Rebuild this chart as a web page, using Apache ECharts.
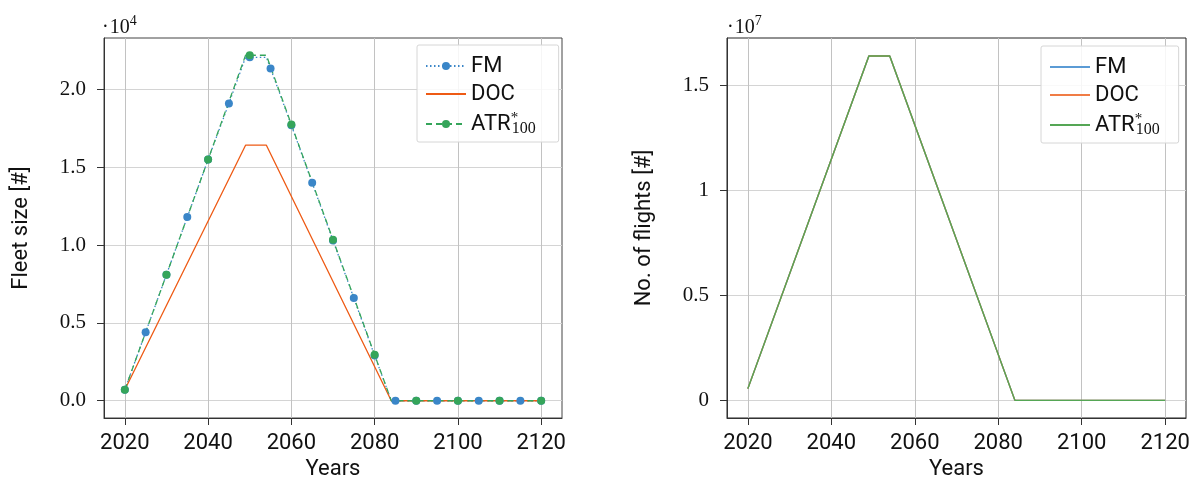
<!DOCTYPE html>
<html><head><meta charset="utf-8">
<script src="https://cdn.jsdelivr.net/npm/echarts@6/dist/echarts.min.js"></script>
<style>html,body{margin:0;padding:0;background:#fff}#c{width:1189px;height:479px}</style>
</head><body><div id="c"></div>
<script>
// ---- data ----
const fleetFMYears = [2020,2025,2030,2035,2040,2045,2049,2050,2054,2055,2060,2065,2070,2075,2080,2084,2085,2090,2095,2100,2105,2110,2115,2120];
const fleetFM      = [700,4400,8100,11800,15500,19100,22070,22070,22070,21350,17700,14000,10300,6600,2900,0,0,0,0,0,0,0,0,0];
const fleetDOCYears = [2020,2049,2054,2084,2120];
const fleetDOC      = [700,16420,16420,0,0];
const fleetATRYears = [2020,2030,2040,2049,2050,2054,2060,2070,2080,2084,2090,2100,2110,2120];
const fleetATR      = [700,8100,15500,22200,22200,22200,17750,10350,2950,0,0,0,0,0];
const flightYears = [2020,2049,2054,2084,2120];
const flightsFM  = [560000,16410000,16410000,0,0];
const flightsDOC = [560000,16410000,16410000,0,0];
const flightsATR = [560000,16410000,16410000,0,0];
const yearTicks   = [2020,2040,2060,2080,2100,2120];
const fleetTicks  = [0,5000,10000,15000,20000];
const flightTicks = [0,5000000,10000000,15000000];
const methodNames = ['FM','DOC','ATR'];

// ---- style ----
const SANS = 'Roboto';
const SERIF = 'Liberation Serif';
const L = {blue:'#3a86c8', orange:'#ee5a14', green:'#35a55a'};
const R = {blue:'#5b9bd5', orange:'#f07c45', green:'#55a655'};

function pts(years, vals, every) {
  return years.map((y, i) => ({
    value: [y, vals[i]],
    symbol: (every && y % every === 0) ? 'circle' : 'none'
  }));
}

const legendRich = {
  a: {fontFamily: SANS, fontSize: 22, lineHeight: 26, color: '#111'},
  s: {fontFamily: SERIF, fontSize: 15, lineHeight: 15, verticalAlign: 'top', width: 1, color: '#111'},
  u: {fontFamily: SERIF, fontSize: 16, lineHeight: 8, verticalAlign: 'bottom', color: '#111'}
};
function legendFmt(name) {
  const base = name.trim();
  if (base === 'ATR') return '{a|ATR}{s|*}{u|100}';
  return '{a|' + base + '}';
}
const noSym = {opacity: 0};

function xAxis(gi) {
  return {
    type: 'value', gridIndex: gi, min: 2015, max: 2125, splitNumber: 5,
    name: 'Years', nameLocation: 'middle', nameGap: 38,
    nameTextStyle: {fontFamily: SANS, fontSize: 22, color: '#111'},
    axisLine: {show: true, onZero: false, lineStyle: {color: '#333', width: 1}},
    axisTick: {show: true, inside: false, length: 7, customValues: yearTicks, lineStyle: {color: '#333'}},
    axisLabel: {customValues: yearTicks, margin: 14, fontFamily: SANS, fontSize: 22, color: '#111', formatter: v => String(v)},
    splitLine: {show: true, lineStyle: {color: '#c2c2c2', width: 1}}
  };
}
function yAxis(gi, min, max, split, ticks, name, fmt) {
  return {
    type: 'value', gridIndex: gi, min: min, max: max, splitNumber: split,
    name: name, nameLocation: 'middle', nameGap: 72,
    nameTextStyle: {fontFamily: SANS, fontSize: 22, color: '#111'},
    axisLine: {show: true, onZero: false, lineStyle: {color: '#333', width: 1}},
    axisTick: {show: true, inside: false, length: 7, customValues: ticks, lineStyle: {color: '#333'}},
    axisLabel: {customValues: ticks, margin: 18, fontFamily: SERIF, fontSize: 21, color: '#111', formatter: fmt},
    splitLine: {show: true, lineStyle: {color: '#d4d4d4', width: 1.2}}
  };
}
function expTitle(left, exp) {
  return {left: left, top: 9, text: '{d|·}{m|10}{e|' + exp + '}', textStyle: {rich: {
    d: {fontFamily: SERIF, fontSize: 20, lineHeight: 24, fontWeight: 'normal', verticalAlign: 'bottom', color: '#111', padding: [0, 1, 0, 0]},
    m: {fontFamily: SERIF, fontSize: 20, lineHeight: 24, fontWeight: 'normal', verticalAlign: 'bottom', color: '#111'},
    e: {fontFamily: SERIF, fontSize: 14, lineHeight: 14, fontWeight: 'normal', verticalAlign: 'top', color: '#111'}}}};
}
function legendData(names) {
  return names.map(n => (n.trim() === 'DOC' || n !== n.trim()) ? {name: n, itemStyle: noSym} : {name: n});
}

const option = {
  animation: false,
  backgroundColor: '#fff',
  title: [expTitle(97, '4'), expTitle(722, '7')],
  grid: [
    {left: 104, top: 38, width: 458, height: 380, show: true, borderColor: '#444', borderWidth: 1,
     containLabel: false, outerBoundsMode: 'none'},
    {left: 727, top: 38, width: 459, height: 380, show: true, borderColor: '#222', borderWidth: 1,
     containLabel: false, outerBoundsMode: 'none'}
  ],
  legend: [
    {left: 417, top: 45, orient: 'vertical', itemWidth: 40, itemHeight: 10, itemGap: 6,
     padding: [10, 23, 5, 8], backgroundColor: 'rgba(255,255,255,0.85)', borderColor: '#d6d6d6', borderWidth: 1, borderRadius: 2,
     data: legendData(methodNames), formatter: legendFmt, textStyle: {rich: legendRich}},
    {left: 1041, top: 46, orient: 'vertical', itemWidth: 40, itemHeight: 10, itemGap: 6,
     padding: [10, 19, 5, 8], backgroundColor: 'rgba(255,255,255,0.85)', borderColor: '#d6d6d6', borderWidth: 1, borderRadius: 2,
     data: legendData(methodNames.map(n => n + ' ')), formatter: legendFmt, textStyle: {rich: legendRich}}
  ],
  xAxis: [xAxis(0), xAxis(1)],
  yAxis: [
    yAxis(0, -1110, 23310, 5, fleetTicks, 'Fleet size [#]', v => (v / 1e4).toFixed(1)),
    yAxis(1, -840000, 17270000, 4, flightTicks, 'No. of flights [#]', v => String(v / 1e7))
  ],
  series: [
    {type: 'line', name: 'FM', xAxisIndex: 0, yAxisIndex: 0, data: pts(fleetFMYears, fleetFM, 5),
     symbol: 'circle', symbolSize: 8, showAllSymbol: true,
     lineStyle: {color: L.blue, width: 1.3, type: [1.5, 2.5]}, itemStyle: {color: L.blue}},
    {type: 'line', name: 'DOC', xAxisIndex: 0, yAxisIndex: 0, data: pts(fleetDOCYears, fleetDOC, 0),
     symbol: 'none', lineStyle: {color: L.orange, width: 1.3}, itemStyle: {color: L.orange}},
    {type: 'line', name: 'ATR', xAxisIndex: 0, yAxisIndex: 0, data: pts(fleetATRYears, fleetATR, 10),
     symbol: 'circle', symbolSize: 8, showAllSymbol: true,
     lineStyle: {color: L.green, width: 1.3, type: [6, 4]}, itemStyle: {color: L.green}},
    {type: 'line', name: 'FM ', xAxisIndex: 1, yAxisIndex: 1, data: pts(flightYears, flightsFM, 0),
     symbol: 'none', lineStyle: {color: R.blue, width: 1.4}, itemStyle: {color: R.blue}},
    {type: 'line', name: 'DOC ', xAxisIndex: 1, yAxisIndex: 1, data: pts(flightYears, flightsDOC, 0),
     symbol: 'none', lineStyle: {color: R.orange, width: 1.4}, itemStyle: {color: R.orange}},
    {type: 'line', name: 'ATR ', xAxisIndex: 1, yAxisIndex: 1, data: pts(flightYears, flightsATR, 0),
     symbol: 'none', lineStyle: {color: R.green, width: 1.4}, itemStyle: {color: R.green}}
  ]
};
const chart = echarts.init(document.getElementById('c'), null, {renderer: 'canvas'});
chart.setOption(option);
</script>
</body></html>
